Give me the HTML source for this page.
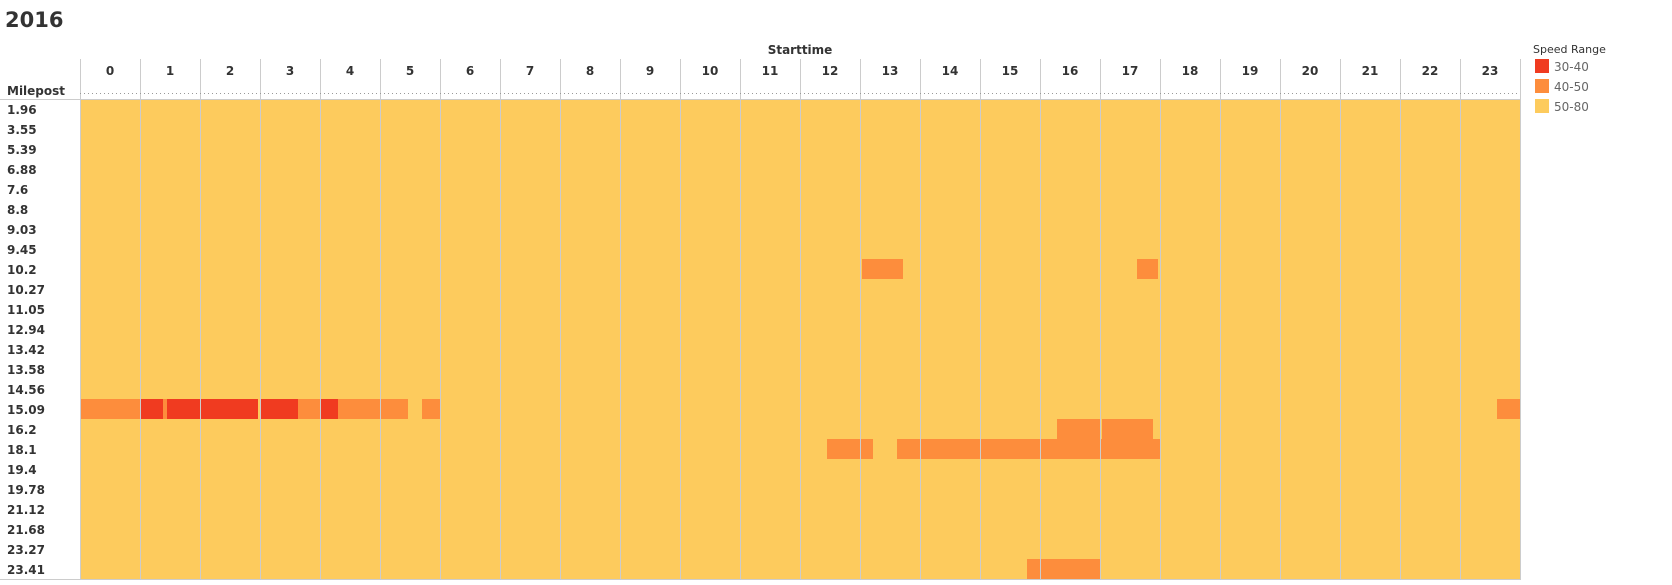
<!DOCTYPE html>
<html><head><meta charset="utf-8"><style>
body{margin:0;background:#fff;font-family:"Liberation Sans","DejaVu Sans",sans-serif;}
svg text{font-family:"DejaVu Sans","Liberation Sans",sans-serif;}
</style></head><body>
<svg id="chart" width="1672" height="580" xmlns="http://www.w3.org/2000/svg">
<text x="5" y="27" font-size="21" font-weight="bold" fill="#333">2016</text>
<text x="800" y="54" font-size="12" font-weight="bold" fill="#333" text-anchor="middle">Starttime</text>
<text x="7" y="95" font-size="12" font-weight="bold" fill="#333">Milepost</text>
<g id="cells"></g><g id="grid"></g><g id="labels"></g>
<g>
<text x="1533" y="53" font-size="11" fill="#333">Speed Range</text>
<rect x="1535" y="59" width="14" height="14" fill="#F03B20"/>
<text x="1554" y="71" font-size="12" fill="#666">30-40</text>
<rect x="1535" y="79" width="14" height="14" fill="#FD8D3C"/>
<text x="1554" y="91" font-size="12" fill="#666">40-50</text>
<rect x="1535" y="99" width="14" height="14" fill="#FDCB5D"/>
<text x="1554" y="111" font-size="12" fill="#666">50-80</text>
</g>
</svg>
<script>
const mileposts=["1.96","3.55","5.39","6.88","7.6","8.8","9.03","9.45","10.2","10.27","11.05","12.94","13.42","13.58","14.56","15.09","16.2","18.1","19.4","19.78","21.12","21.68","23.27","23.41"];
const hours=[0,1,2,3,4,5,6,7,8,9,10,11,12,13,14,15,16,17,18,19,20,21,22,23];
// slow segments: milepost, start minute of day, end minute, speed range
const segMilepost=["15.09","15.09","15.09","15.09","15.09","15.09","15.09","15.09","15.09","15.09","10.2","10.2","16.2","16.2","18.1","18.1","23.41"];
const segStart=[0,61,83,87,180,218,240,258,342,1417,782,1057,977,1022,747,817,947];
const segEnd=[60,83,87,178,218,240,258,328,360,1440,823,1078,1020,1073,793,1080,1020];
const segRange=["40-50","30-40","40-50","30-40","30-40","40-50","30-40","40-50","40-50","40-50","40-50","40-50","40-50","40-50","40-50","40-50","40-50"];
const colors={"30-40":"#F03B20","40-50":"#FD8D3C","50-80":"#FDCB5D"};
const X0=80,MIN_W=1,Y0=99,ROW_H=20;
const xs=m=>X0+m*MIN_W;
const ys=mp=>Y0+mileposts.indexOf(mp)*ROW_H;
const NS="http://www.w3.org/2000/svg";
function mk(tag,attrs,parent){const e=document.createElementNS(NS,tag);for(const k in attrs)e.setAttribute(k,attrs[k]);parent.appendChild(e);return e;}
const cells=document.getElementById('cells'),grid=document.getElementById('grid'),labels=document.getElementById('labels');
const bg=mk('rect',{x:xs(0),y:Y0,width:xs(1440)-xs(0),height:mileposts.length*ROW_H,fill:colors["50-80"]},cells);


segMilepost.forEach((mp,i)=>{
 const r=mk('rect',{x:xs(segStart[i]),y:ys(mp),width:xs(segEnd[i])-xs(segStart[i]),height:ROW_H,fill:colors[segRange[i]]},cells);
 
 
});
mileposts.forEach((mp,i)=>{
 const t=mk('text',{x:7,y:ys(mp)+15,'font-size':12,'font-weight':'bold',fill:'#333'},labels);
 t.textContent=mp;
 
 
});
hours.forEach(h=>{
 const t=mk('text',{x:xs(h*60+30),y:75,'font-size':12,'font-weight':'bold',fill:'#333','text-anchor':'middle'},labels);
 t.textContent=h;
 
 
});
for(let h=0;h<=24;h++){
 const l=mk('line',{x1:xs(h*60)+0.5,x2:xs(h*60)+0.5,y1:59,y2:580,stroke:'#ccc','stroke-width':1},grid);
 
 
}
const dl=mk('line',{x1:80,x2:1520,y1:93.5,y2:93.5,stroke:'#999','stroke-width':1,'stroke-dasharray':'1,3'},grid);


const hl=mk('line',{x1:0,x2:1520,y1:99.5,y2:99.5,stroke:'#ccc','stroke-width':1},grid);


const bl=mk('line',{x1:0,x2:1520,y1:579.5,y2:579.5,stroke:'#ccc','stroke-width':1},grid);


</script>
</body></html>
